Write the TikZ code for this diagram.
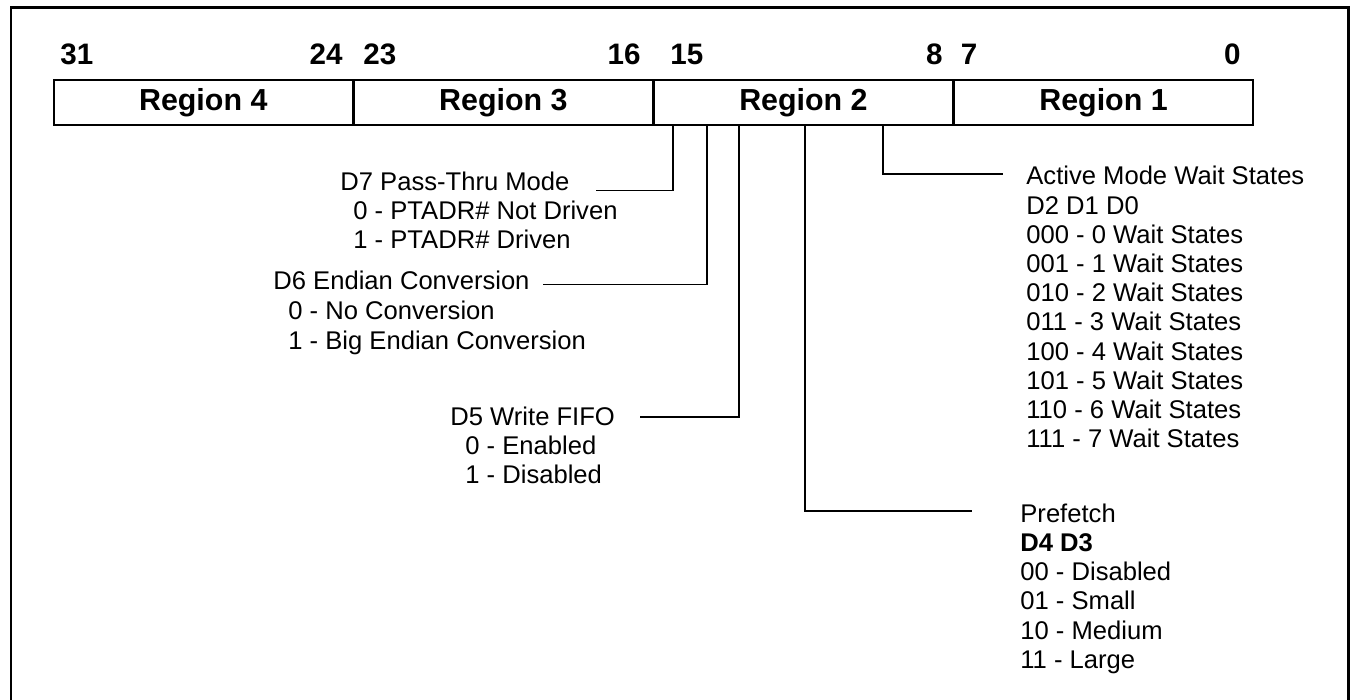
\documentclass[tikz,border=0pt]{standalone}
\usepackage{fontspec}
\setmainfont{Liberation Sans}
\usepackage{tikz}
\usetikzlibrary{positioning}

\tikzset{
  field/.style={draw, line width=0.8pt, minimum width=149.25pt, minimum height=22.5pt,
    inner sep=0pt, font=\fontsize{15.2}{17}\selectfont\bfseries},
  bitno/.style={inner sep=0pt, font=\fontsize{14.8}{17}\selectfont\bfseries},
  desc/.style={inner sep=0pt, anchor=base west, font=\fontsize{12.8}{14.6}\selectfont},
  tap/.style={line width=0.65pt},
}

\begin{document}
\begin{tikzpicture}[x=0.5pt, y=-0.5pt]
\useasboundingbox (0,0) rectangle (1351,700);
\draw[line width=1.15pt] (11,702) |- (1348.5,7.5) -- (1348.5,702);

\node[field] (reg4) at (203.25,102.5) {Region 4};
\node[field, right=0pt of reg4] (reg3) {Region 3};
\node[field, right=0pt of reg3] (reg2) {Region 2};
\node[field, right=0pt of reg2] (reg1) {Region 1};

\foreach \num/\xx/\side [count=\k] in {31/60/west, 24/343/east, 23/363/west, 16/641/east,
    15/670/west, 8/943/east, 7/960.5/west, 0/1241/east}
  \node[bitno, anchor=base \side] (bit\k) at (\xx,65) {\num};

% D7
\node[desc] (pass) at (340,191) {D7 Pass-Thru Mode};
\node[desc] (pass0) at (353,220) {0 - PTADR\# Not Driven};
\node[desc] (pass1) at (353,249) {1 - PTADR\# Driven};
\coordinate (tap7) at (673,125);
\coordinate (end7) at (596,190.5);
\draw[tap] (tap7) |- (end7);

% D6
\node[desc] (endian) at (273,290) {D6 Endian Conversion};
\node[desc] (endian0) at (288,320) {0 - No Conversion};
\node[desc] (endian1) at (288,349.5) {1 - Big Endian Conversion};
\coordinate (tap6) at (707,125);
\coordinate (end6) at (543,284.5);
\draw[tap] (tap6) |- (end6);

% D5
\node[desc] (fifo) at (450,426) {D5 Write FIFO};
\node[desc] (fifo0) at (465,455) {0 - Enabled};
\node[desc] (fifo1) at (465,484) {1 - Disabled};
\coordinate (tap5) at (739,125);
\coordinate (end5) at (640,417);
\draw[tap] (tap5) |- (end5);

% D4 D3
\node[desc] (pref) at (1020,522.3) {Prefetch};
\node[desc] (prefbits) at (1020,551.5) {\bfseries D4 D3};
\foreach \bits/\size [count=\k] in {00/Disabled, 01/Small, 10/Medium, 11/Large}
  \node[desc] (pf\k) at (1020,{551.5+29.2*\k}) {\bits{} - \size};
\coordinate (tap4) at (805,125);
\coordinate (end4) at (972,511);
\draw[tap] (tap4) |- (end4);

% D2 D1 D0
\node[desc] (wait) at (1026,185) {Active Mode Wait States};
\node[desc] (waitbits) at (1026,214.2) {D2 D1 D0};
\foreach \bits [count=\k] in {000,001,010,011,100,101,110,111}{
  \pgfmathtruncatemacro\ws{\k-1}
  \node[desc] (ws\k) at (1026,{214.2+29.2*\k}) {\bits{} - \ws{} Wait States};
}
\coordinate (tap2) at (883,125);
\coordinate (end2) at (1003,174);
\draw[tap] (tap2) |- (end2);
\end{tikzpicture}
\end{document}
